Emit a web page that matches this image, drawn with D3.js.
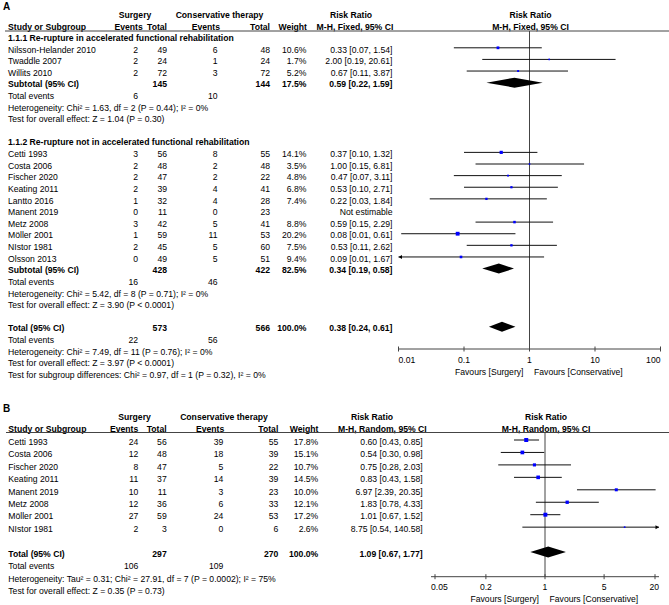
<!DOCTYPE html>
<html><head><meta charset="utf-8">
<script src="https://cdn.jsdelivr.net/npm/d3@7"></script>
<style>
body{margin:0;background:#fff}
text{font-family:"Liberation Sans",Arial,sans-serif;font-size:8.65px;fill:#000}
</style>
</head><body>
<svg id="c" width="669" height="605"></svg>
<script>
// ---------------- Panel A data ----------------
const aStudies = ["Nilsson-Helander 2010","Twaddle 2007","Willits 2010","Cetti 1993","Costa 2006","Fischer 2020","Keating 2011","Lantto 2016","Manent 2019","Metz 2008","Möller 2001","NIstor 1981","Olsson 2013"];
const aGroup = [1,1,1,2,2,2,2,2,2,2,2,2,2];
const aSurgEvents = [2,2,2,3,2,2,2,1,0,3,1,2,0];
const aSurgTotal = [49,24,72,56,48,47,39,32,11,42,59,45,49];
const aConsEvents = [6,1,3,8,2,2,4,4,0,5,11,5,5];
const aConsTotal = [48,24,72,55,48,22,41,28,23,41,53,60,51];
const aWeight = [10.6,1.7,5.2,14.1,3.5,4.8,6.8,7.4,null,8.8,20.2,7.5,9.4];
const aRR = [0.33,2.00,0.67,0.37,1.00,0.47,0.53,0.22,null,0.59,0.08,0.53,0.09];
const aLo = [0.07,0.19,0.11,0.10,0.15,0.07,0.10,0.03,null,0.15,0.011,0.11,0.0054];
const aHi = [1.54,20.61,3.87,1.32,6.81,3.11,2.71,1.84,null,2.29,0.61,2.62,1.67];
const aGroupNames = ["1.1.1 Re-rupture in accelerated functional rehabilitation","1.1.2 Re-rupture not in accelerated functional rehabilitation"];
const aSubSurgTotal = [145,428];
const aSubConsTotal = [144,422];
const aSubSurgEvents = [6,16];
const aSubConsEvents = [10,46];
const aSubWeight = [17.5,82.5];
const aSubRR = [0.59,0.34];
const aSubLo = [0.22,0.19];
const aSubHi = [1.59,0.58];
const aSubHet = ["Heterogeneity: Chi² = 1.63, df = 2 (P = 0.44); I² = 0%","Heterogeneity: Chi² = 5.42, df = 8 (P = 0.71); I² = 0%"];
const aSubTest = ["Test for overall effect: Z = 1.04 (P = 0.30)","Test for overall effect: Z = 3.90 (P < 0.0001)"];
const aTotal = {surgTotal:573, consTotal:566, surgEvents:22, consEvents:56, weight:100.0, rr:0.38, lo:0.24, hi:0.61};
const aTotalTexts = ["Heterogeneity: Chi² = 7.49, df = 11 (P = 0.76); I² = 0%","Test for overall effect: Z = 3.97 (P < 0.0001)","Test for subgroup differences: Chi² = 0.97, df = 1 (P = 0.32), I² = 0%"];
const aTicks = [0.01,0.1,1,10,100];
const aTickLabels = ["0.01","0.1","1","10","100"];

// ---------------- Panel B data ----------------
const bStudies = ["Cetti 1993","Costa 2006","Fischer 2020","Keating 2011","Manent 2019","Metz 2008","Möller 2001","NIstor 1981"];
const bSurgEvents = [24,12,8,11,10,12,27,2];
const bSurgTotal = [56,48,47,37,11,36,59,3];
const bConsEvents = [39,18,5,14,3,6,24,0];
const bConsTotal = [55,39,22,39,23,33,53,6];
const bWeight = [17.8,15.1,10.7,14.5,10.0,12.1,17.2,2.6];
const bRR = [0.60,0.54,0.75,0.83,6.97,1.83,1.01,8.75];
const bLo = [0.43,0.30,0.28,0.43,2.39,0.78,0.67,0.54];
const bHi = [0.85,0.98,2.03,1.58,20.35,4.33,1.52,140.58];
const bTotal = {surgTotal:297, consTotal:270, surgEvents:106, consEvents:109, weight:100.0, rr:1.09, lo:0.67, hi:1.77};
const bTotalTexts = ["Heterogeneity: Tau² = 0.31; Chi² = 27.91, df = 7 (P = 0.0002); I² = 75%","Test for overall effect: Z = 0.35 (P = 0.73)"];
const bTicks = [0.05,0.2,1,5,20];
const bTickLabels = ["0.05","0.2","1","5","20"];

// ---------------- helpers ----------------
const f2 = d3.format(".2f"), f1 = d3.format(".1f");
const ciText = (r,l,h) => `${f2(r)} [${f2(l)}, ${f2(h)}]`;
const svg = d3.select("#c");

// build rows for panel A
const rowsA = [];
let ia = -1;
[1,2].forEach((gNum,gi) => {
  rowsA.push({i:ia++, type:"header", name:aGroupNames[gi]});
  aStudies.forEach((s,k) => {
    if (aGroup[k] !== gNum) return;
    rowsA.push({i:ia++, type:"study", name:s, se:aSurgEvents[k], st:aSurgTotal[k], ce:aConsEvents[k], ct:aConsTotal[k], w:aWeight[k], rr:aRR[k], lo:aLo[k], hi:aHi[k]});
  });
  rowsA.push({i:ia++, type:"sub", name:"Subtotal (95% CI)", st:aSubSurgTotal[gi], ct:aSubConsTotal[gi], w:aSubWeight[gi], rr:aSubRR[gi], lo:aSubLo[gi], hi:aSubHi[gi]});
  rowsA.push({i:ia++, type:"events", name:"Total events", se:aSubSurgEvents[gi], ce:aSubConsEvents[gi]});
  rowsA.push({i:ia++, type:"text", name:aSubHet[gi]});
  rowsA.push({i:ia++, type:"text", name:aSubTest[gi]});
  ia++; // blank
});
rowsA.push({i:ia++, type:"sub", name:"Total (95% CI)", st:aTotal.surgTotal, ct:aTotal.consTotal, w:aTotal.weight, rr:aTotal.rr, lo:aTotal.lo, hi:aTotal.hi});
rowsA.push({i:ia++, type:"events", name:"Total events", se:aTotal.surgEvents, ce:aTotal.consEvents});
aTotalTexts.forEach(t => rowsA.push({i:ia++, type:"text", name:t}));

// build rows for panel B
const rowsB = [];
let ib = 0;
bStudies.forEach((s,k) => rowsB.push({i:ib++, type:"study", name:s, se:bSurgEvents[k], st:bSurgTotal[k], ce:bConsEvents[k], ct:bConsTotal[k], w:bWeight[k], rr:bRR[k], lo:bLo[k], hi:bHi[k]}));
ib++;
rowsB.push({i:ib++, type:"sub", name:"Total (95% CI)", st:bTotal.surgTotal, ct:bTotal.consTotal, w:bTotal.weight, rr:bTotal.rr, lo:bTotal.lo, hi:bTotal.hi});
rowsB.push({i:ib++, type:"events", name:"Total events", se:bTotal.surgEvents, ce:bTotal.consEvents});
bTotalTexts.forEach(t => rowsB.push({i:ib++, type:"text", name:t}));

function drawPanel(cfg) {
  const g = svg.append("g");
  const x = cfg.x, row = cfg.row;
  const base = i => row(i) + 4.7;
  const c = cfg.cols;
  const txt = (xx, yy, s, anchor, bold) => g.append("text").attr("x",xx).attr("y",yy)
      .attr("text-anchor",anchor||"start").style("font-weight",bold?"bold":null).text(s);

  // panel label
  g.append("text").attr("x",3).attr("y",cfg.labelY).text(cfg.label)
    .style("font-weight","bold").style("font-size","10px");

  // headers
  const h1 = cfg.h1, h2 = cfg.h2;
  txt(c.surgHead, h1, "Surgery", "middle", true);
  txt(c.consHead, h1, "Conservative therapy", "middle", true);
  txt(c.rrHead, h1, "Risk Ratio", "middle", true);
  txt(x(1)+1, h1, "Risk Ratio", "middle", true);
  txt(c.name, h2, "Study or Subgroup", "start", true);
  txt(c.seHead, h2, "Events", "end", true);
  txt(c.stHead, h2, "Total", "end", true);
  txt(c.ceHead, h2, "Events", "end", true);
  txt(c.ctHead, h2, "Total", "end", true);
  txt(c.wHead, h2, "Weight", "end", true);
  txt(c.rrMethodEnd, h2, cfg.method, "end", true);
  txt(x(1)+1, h2, cfg.method, "middle", true);
  g.append("line").attr("x1",c.lineStart).attr("x2",669).attr("y1",cfg.lineY).attr("y2",cfg.lineY)
    .attr("stroke","#444").attr("stroke-width",1);

  // vertical line at 1
  g.append("line").attr("x1",x(1)).attr("x2",x(1)).attr("y1",cfg.lineY).attr("y2",cfg.axisY)
    .attr("stroke","#444").attr("stroke-width",1);

  const xMin = x.range()[0]-cfg.pad, xMax = x.range()[1]+cfg.pad;

  cfg.rows.forEach(r => {
    const yb = base(r.i), ym = row(r.i);
    const bold = r.type==="header" || r.type==="sub";
    txt(c.name, yb, r.name, "start", bold);
    if (r.type==="study" || r.type==="events") {
      txt(c.se, yb, r.se, "end");
      txt(c.ce, yb, r.ce, "end");
    }
    if (r.type==="study" || r.type==="sub") {
      txt(c.st, yb, r.st, "end", bold);
      txt(c.ct, yb, r.ct, "end", bold);
      if (r.w != null) txt(c.w, yb, f1(r.w)+"%", "end", bold);
      txt(c.rr, yb, r.rr==null ? "Not estimable" : ciText(r.rr,r.lo,r.hi), "end", bold);
    }
    if (r.type==="study" && r.rr!=null) {
      const xl = Math.max(xMin, x(r.lo)), xh = Math.min(xMax, x(r.hi));
      g.append("line").attr("x1",xl).attr("x2",xh).attr("y1",ym).attr("y2",ym)
        .attr("stroke","#111").attr("stroke-width",1);
      if (x(r.lo) < xMin) {
        g.append("path").attr("d",`M${xMin},${ym}L${xMin+3.5},${ym-2}L${xMin+3.5},${ym+2}Z`).attr("fill","#000");
      }
      if (x(r.hi) > xMax) {
        g.append("path").attr("d",`M${xMax},${ym}L${xMax-3.5},${ym-2}L${xMax-3.5},${ym+2}Z`).attr("fill","#000");
      }
      const s = Math.max(1.6, cfg.sq*Math.sqrt(r.w));
      g.append("rect").attr("x",x(r.rr)-s/2).attr("y",ym-s/2).attr("width",s).attr("height",s)
        .attr("fill","#0000ff");
    }
    if (r.type==="sub") {
      const h = cfg.dh;
      g.append("path").attr("d",`M${x(r.lo)},${ym}L${x(r.rr)},${ym-h}L${x(r.hi)},${ym}L${x(r.rr)},${ym+h}Z`)
        .attr("fill","#000");
    }
  });

  // axis
  const ay = cfg.axisY;
  g.append("line").attr("x1",xMin).attr("x2",xMax).attr("y1",ay).attr("y2",ay).attr("stroke","#444");
  cfg.ticks.forEach((t,k) => {
    g.append("line").attr("x1",x(t)).attr("x2",x(t)).attr("y1",ay-2.5).attr("y2",ay+2.5).attr("stroke","#444");
    const lab = txt(x(t), cfg.tickY, cfg.tickLabels[k], "middle");
    const w = lab.node().getComputedTextLength();
    const cx = Math.min(Math.max(x(t), xMin + w/2), xMax - w/2);
    lab.attr("x", cx);
  });
  txt(x(1)-6, cfg.favY, "Favours [Surgery]", "end");
  txt(x(1)+4.5, cfg.favY, "Favours [Conservative]", "start");
}

drawPanel({
  label:"A", labelY:10, rows:rowsA,
  x: d3.scaleLog().domain([0.01,100]).range([398.5,660.5]),
  row: d3.scaleLinear().domain([0,1]).range([47.8,59.42]),
  pad:0, sq:0.85, dh:5,
  h1:18, h2:30, lineY:31, axisY:349, tickY:363, favY:375,
  method:"M-H, Fixed, 95% CI",
  cols:{name:8, se:138, st:167, ce:217.5, ct:270, w:306.5, rr:392.5,
        surgHead:135, consHead:219.5, rrHead:351,
        seHead:142.7, stHead:167, ceHead:220, ctHead:270, wHead:307, rrMethodEnd:393.3, lineStart:5},
  ticks:aTicks, tickLabels:aTickLabels
});

drawPanel({
  label:"B", labelY:411.7, rows:rowsB,
  x: d3.scaleLog().domain([0.05,20]).range([435,655]),
  row: d3.scaleLinear().domain([0,1]).range([440,452.45]),
  pad:4, sq:0.95, dh:5.5,
  h1:419.5, h2:431.5, lineY:432.5, axisY:576.7, tickY:590, favY:601.5,
  method:"M-H, Random, 95% CI",
  cols:{name:8.3, se:138.3, st:166.7, ce:223.3, ct:278.3, w:318.3, rr:422.7,
        surgHead:134.5, consHead:224, rrHead:372,
        seHead:138.3, stHead:166.7, ceHead:224.3, ctHead:278.3, wHead:318.3, rrMethodEnd:426.7, lineStart:6},
  ticks:bTicks, tickLabels:bTickLabels
});
</script>
</body></html>
